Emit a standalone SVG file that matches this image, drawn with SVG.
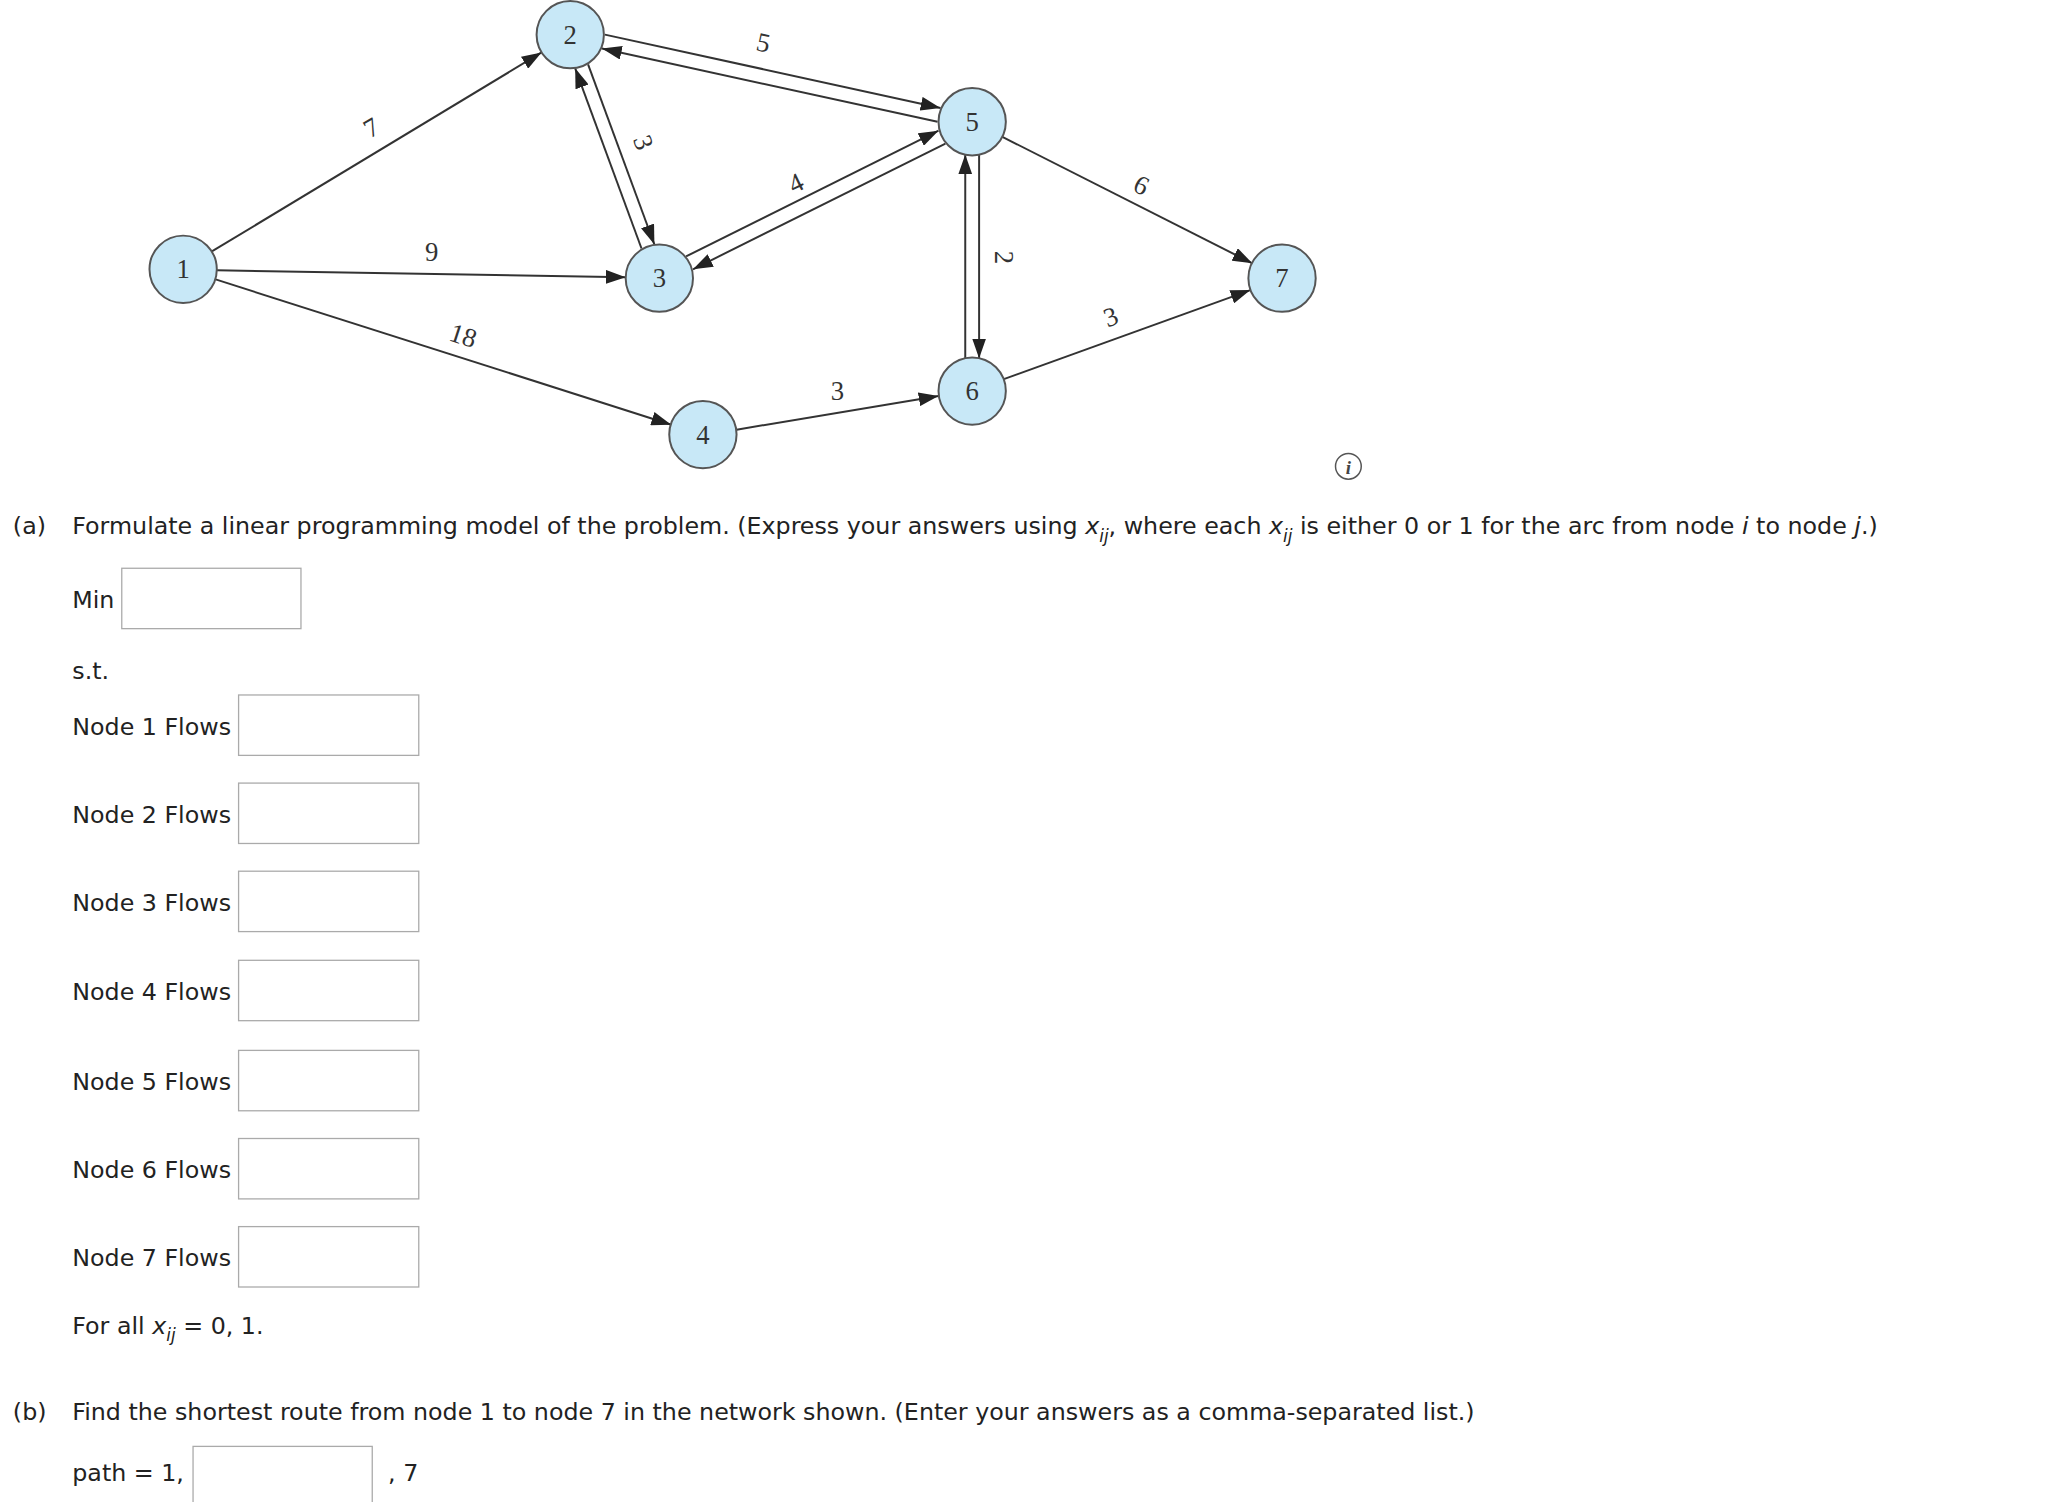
<svg xmlns="http://www.w3.org/2000/svg" width="2068" height="1502" viewBox="0 0 2068 1502">
<style>
.n circle{fill:#c8e8f7;stroke:#555;stroke-width:2}
.n text,.lb{font-family:"Liberation Serif",serif;font-size:27px;fill:#333;text-anchor:middle}
.e line{stroke:#333;stroke-width:2;marker-end:url(#a)}
.t{font-family:"DejaVu Sans",Verdana,sans-serif;font-size:24px;fill:#222}
.b{fill:#fff;stroke:#aaa;stroke-width:1.3}
</style>
<defs><marker id="a" markerUnits="userSpaceOnUse" markerWidth="20" markerHeight="14" refX="20" refY="7" orient="auto"><path d="M0,0L20,7L0,14z" fill="#222"/></marker></defs>
<g transform="scale(0.99)">
<g class="e" id="connectors">
<line x1="214" y1="254" x2="547" y2="53"/>
<line x1="219" y1="273" x2="632" y2="280"/>
<line x1="217" y1="282" x2="678" y2="429"/>
<line x1="611" y1="35" x2="950" y2="109"/>
<line x1="947" y1="123" x2="608" y2="49"/>
<line x1="594" y1="65" x2="661" y2="247"/>
<line x1="648" y1="251" x2="581" y2="69"/>
<line x1="693" y1="259" x2="948" y2="132"/>
<line x1="955" y1="145" x2="700" y2="272"/>
<line x1="989" y1="156" x2="989" y2="362"/>
<line x1="975" y1="362" x2="975" y2="156"/>
<line x1="744" y1="434" x2="948" y2="400"/>
<line x1="1012" y1="138" x2="1265" y2="266"/>
<line x1="1014" y1="383" x2="1263" y2="293"/>
</g>
<g id="labels">
<text class="lb" x="375" y="138" transform="rotate(-30 375 129)">7</text>
<text class="lb" x="436" y="264">9</text>
<text class="lb" x="468" y="348" transform="rotate(18 468 339)">18</text>
<text class="lb" x="771" y="52" transform="rotate(12 771 43)">5</text>
<text class="lb" x="650" y="153" transform="rotate(70 650 144)">3</text>
<text class="lb" x="804" y="194" transform="rotate(-26 804 185)">4</text>
<text class="lb" x="1014" y="269" transform="rotate(90 1014 260)">2</text>
<text class="lb" x="1153" y="196" transform="rotate(26 1153 187)">6</text>
<text class="lb" x="1122" y="329" transform="rotate(-20 1122 320)">3</text>
<text class="lb" x="846" y="404">3</text>
</g>
<g class="n" id="node1"><circle cx="185" cy="272" r="34"/><text x="185" y="281">1</text></g>
<g class="n" id="node2"><circle cx="576" cy="35" r="34"/><text x="576" y="44">2</text></g>
<g class="n" id="node3"><circle cx="666" cy="281" r="34"/><text x="666" y="290">3</text></g>
<g class="n" id="node4"><circle cx="710" cy="439" r="34"/><text x="710" y="448">4</text></g>
<g class="n" id="node5"><circle cx="982" cy="123" r="34"/><text x="982" y="132">5</text></g>
<g class="n" id="node6"><circle cx="982" cy="395" r="34"/><text x="982" y="404">6</text></g>
<g class="n" id="node7"><circle cx="1295" cy="281" r="34"/><text x="1295" y="290">7</text></g>
<g id="info"><circle cx="1362" cy="471" r="13" fill="#fff" stroke="#555" stroke-width="1.5"/><text x="1362" y="479" font-family="Liberation Serif,serif" font-style="italic" font-weight="bold" font-size="19" text-anchor="middle" fill="#444">i</text></g>
<g id="form" class="t">
<text x="13" y="539">(a)</text>
<text x="73" y="539">Formulate a linear programming model of the problem. (Express your answers using <tspan font-style="italic">x</tspan><tspan font-style="italic" font-size="17" dy="8">ij</tspan><tspan dy="-8">, where each </tspan><tspan font-style="italic">x</tspan><tspan font-style="italic" font-size="17" dy="8">ij</tspan><tspan dy="-8"> is either 0 or 1 for the arc from node </tspan><tspan font-style="italic">i</tspan> to node <tspan font-style="italic">j</tspan>.)</text>
<text x="73" y="614">Min</text>
<rect class="b" x="123" y="574" width="181" height="61"/>
<text x="73" y="686">s.t.</text>
<text x="73" y="742">Node 1 Flows</text><rect class="b" x="241" y="702" width="182" height="61"/>
<text x="73" y="831">Node 2 Flows</text><rect class="b" x="241" y="791" width="182" height="61"/>
<text x="73" y="920">Node 3 Flows</text><rect class="b" x="241" y="880" width="182" height="61"/>
<text x="73" y="1010">Node 4 Flows</text><rect class="b" x="241" y="970" width="182" height="61"/>
<text x="73" y="1101">Node 5 Flows</text><rect class="b" x="241" y="1061" width="182" height="61"/>
<text x="73" y="1190">Node 6 Flows</text><rect class="b" x="241" y="1150" width="182" height="61"/>
<text x="73" y="1279">Node 7 Flows</text><rect class="b" x="241" y="1239" width="182" height="61"/>
<text x="73" y="1347">For all <tspan font-style="italic">x</tspan><tspan font-style="italic" font-size="17" dy="8">ij</tspan><tspan dy="-8"> = 0, 1.</tspan></text>
<text x="13" y="1434">(b)</text>
<text x="73" y="1434">Find the shortest route from node 1 to node 7 in the network shown. (Enter your answers as a comma-separated list.)</text>
<text x="73" y="1496">path = 1,</text>
<rect class="b" x="195" y="1461" width="181" height="61"/>
<text x="392" y="1496">, 7</text>
</g>
</g>
</svg>
